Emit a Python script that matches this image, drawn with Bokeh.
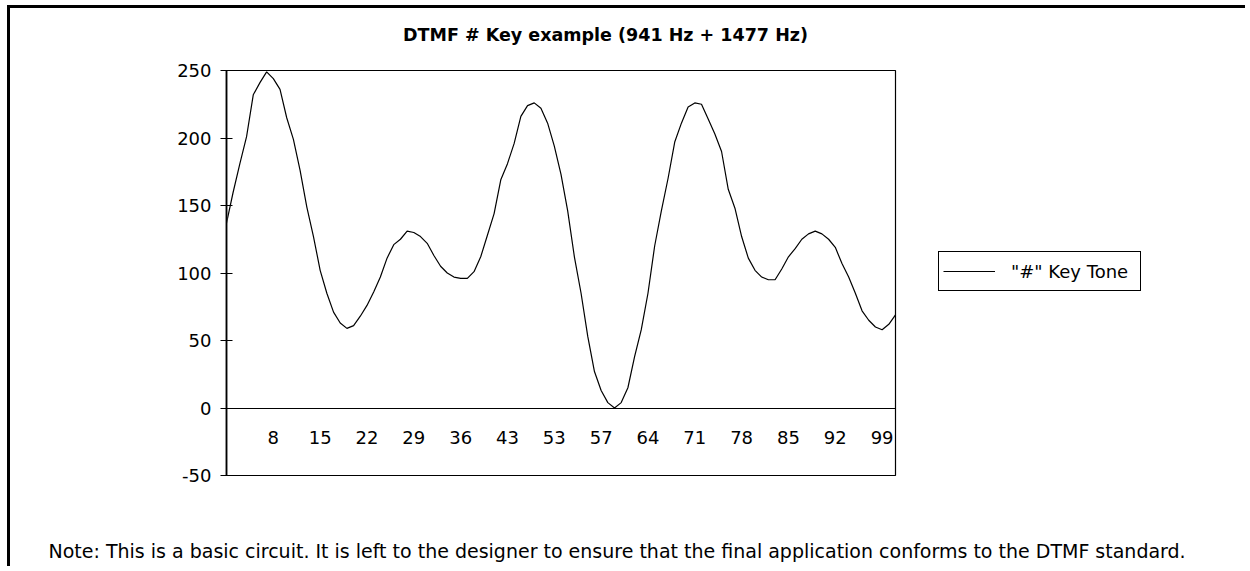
from bokeh.plotting import figure
from bokeh.models import (FixedTicker, Legend, LegendItem, Range1d, Label,
                          BoxAnnotation)
from bokeh.embed import file_html
from bokeh.resources import INLINE

# ---- data ----
sample_index = list(range(101))
key_tone = [137, 160, 181, 201, 232, 241, 249, 244, 236, 215,
            199, 176, 149, 127, 102, 85, 71, 63, 59, 61,
            68, 76, 86, 97, 111, 121, 125, 131, 130, 127,
            122, 113, 105, 100, 97, 96, 96, 101, 112, 128,
            144, 169, 181, 196, 216, 224, 226, 222, 211, 194,
            173, 146, 112, 85, 53, 27, 13, 4, 0, 4,
            15, 38, 58, 85, 120, 146, 170, 197, 211, 223,
            226, 225, 214, 203, 190, 162, 148, 127, 111, 102,
            97, 95, 95, 103, 112, 118, 125, 129, 131, 129,
            125, 119, 107, 97, 85, 72, 65, 60, 58, 62,
            69]
x_tick_positions = [7, 14, 21, 28, 35, 42, 49, 56, 63, 70, 77, 84, 91, 98]
x_tick_labels = ["8", "15", "22", "29", "36", "43", "53", "57", "64", "71",
                 "78", "85", "92", "99"]
y_ticks = [-50, 0, 50, 100, 150, 200, 250]
y_tick_labels = ["-50", "0", "50", "100", "150", "200", "250"]

title_text = "DTMF # Key example (941 Hz + 1477 Hz)"
series_name = '"#" Key Tone'
note_text = ("Note: This is a basic circuit. It is left to the designer to ensure "
             "that the final application conforms to the DTMF standard.")

FONT = "DejaVu Sans"

# ---- layout (pixels on the page) ----
X_MIN, X_MAX = 0, 100
Y_MIN, Y_MAX = -50, 250
CANVAS_L, CANVAS_T = 10, 8          # canvas origin inside the page
W, H = 1238, 561                    # canvas size
AREA_L, AREA_R, AREA_T, AREA_B = 226, 895, 70, 475   # plot area on the page

sx = (AREA_R - AREA_L) / (X_MAX - X_MIN)
sy = (AREA_B - AREA_T) / (Y_MAX - Y_MIN)
frame_x0 = X_MIN - (AREA_L - CANVAS_L) / sx
frame_x1 = X_MAX + (CANVAS_L + W - AREA_R) / sx
frame_y0 = Y_MIN - (CANVAS_T + H - AREA_B) / sy
frame_y1 = Y_MAX + (AREA_T - CANVAS_T) / sy
CANVAS_B = CANVAS_T + H

p = figure(width=W, height=H, output_backend="svg", toolbar_location=None,
           x_range=Range1d(frame_x0, frame_x1), y_range=Range1d(frame_y0, frame_y1),
           min_border_left=0, min_border_right=0,
           min_border_top=0, min_border_bottom=0)
p.styles = {"border-left": "3px solid black", "border-top": "3px solid black",
            "margin-left": "7px", "margin-top": "5px"}
p.background_fill_color = "white"
p.border_fill_color = "white"
p.outline_line_color = None
p.xgrid.grid_line_color = None
p.ygrid.grid_line_color = None

# plot-area border
p.add_layout(BoxAnnotation(left=X_MIN, right=X_MAX, bottom=Y_MIN, top=Y_MAX,
                           fill_alpha=0, line_color="black", line_alpha=1,
                           line_width=1.2))

r = p.line(sample_index, key_tone, line_color="black", line_width=1.2)

# x axis crossing at y = 0
xa = p.xaxis[0]
xa.fixed_location = 0
xa.bounds = (X_MIN, X_MAX)
xa.ticker = FixedTicker(ticks=x_tick_positions)
xa.major_label_overrides = {t: l for t, l in zip(x_tick_positions, x_tick_labels)}
xa.axis_line_color = "black"
xa.axis_line_width = 1
xa.major_tick_line_color = None
xa.minor_tick_line_color = None
xa.major_tick_out = 0
xa.major_tick_in = 0
xa.major_label_standoff = 23
xa.major_label_text_font = FONT
xa.major_label_text_font_size = "18px"
xa.major_label_text_color = "black"

# y axis at the left edge of the plot area
ya = p.yaxis[0]
ya.fixed_location = X_MIN
ya.bounds = (Y_MIN, Y_MAX)
ya.ticker = FixedTicker(ticks=y_ticks)
ya.major_label_overrides = {t: l for t, l in zip(y_ticks, y_tick_labels)}
ya.axis_line_color = "#404040"
ya.axis_line_width = 2
ya.major_tick_line_color = "black"
ya.major_tick_in = 6
ya.major_tick_out = 6
ya.minor_tick_line_color = None
ya.major_label_standoff = 9
ya.major_label_text_font = FONT
ya.major_label_text_font_size = "18px"
ya.major_label_text_color = "black"

legend = Legend(items=[LegendItem(label=series_name, renderers=[r])],
                location=(938 - CANVAS_L, CANVAS_B - 291), orientation="vertical",
                border_line_color="black", border_line_width=1, border_line_alpha=1,
                background_fill_color="white", background_fill_alpha=1,
                padding=4, margin=0, spacing=0,
                glyph_width=52, glyph_height=30, label_height=30,
                label_width=125, label_standoff=16,
                label_text_font=FONT, label_text_font_size="18px",
                label_text_color="black")
p.add_layout(legend)

p.add_layout(Label(x=605 - CANVAS_L, y=CANVAS_B - 34.2, x_units="screen", y_units="screen",
                   text=title_text, text_align="center",
                   text_baseline="alphabetic", text_font=FONT,
                   text_font_size="17.5px", text_font_style="bold",
                   text_color="black"))
p.add_layout(Label(x=48 - CANVAS_L, y=CANVAS_B - 550.2, x_units="screen", y_units="screen",
                   text=note_text, text_align="left",
                   text_baseline="alphabetic", text_font=FONT,
                   text_font_size="19px", text_color="black"))

open("out.html", "w").write(file_html(p, INLINE))
